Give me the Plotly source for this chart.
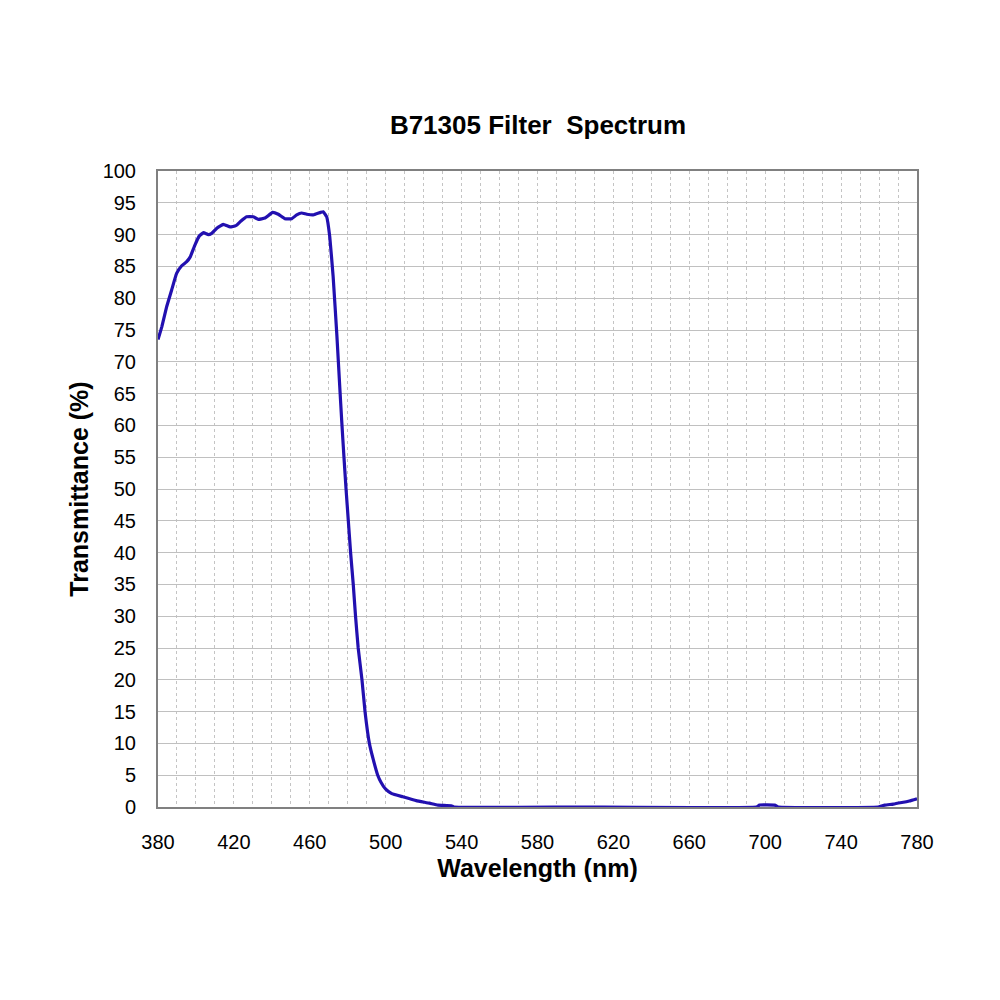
import plotly.graph_objects as go

# transmittance curve (nm, %)
wavelength = [
    380, 382, 384.6, 387.2, 389.8, 392.5, 395, 397, 399.5, 401.8,
    404, 406.5, 408.3, 411, 414.4, 418, 421, 423.6, 426.7, 430.2,
    432.9, 436.4, 440.4, 443.4, 446.9, 450.5, 453.1, 455.7, 458.4, 461.8,
    465.7, 467.1, 468.9, 470.5, 472.3, 474.3, 475.8, 476.8, 478, 479.1,
    480.3, 481.5, 482.9, 484.1, 485.5, 487.5, 489.1, 491.4, 493.5, 495.8,
    497.5, 500, 503.2, 509, 516.1, 523.1, 527.5, 534.5, 536, 600,
    695.5, 697, 705, 706.9, 759.6, 763, 767.5, 772, 776, 780,
]
transmittance = [
    73.5, 75.5, 78.7, 81.3, 83.9, 85.1, 85.7, 86.5, 88.4, 89.8,
    90.3, 90.0, 90.2, 91.0, 91.6, 91.2, 91.4, 92.1, 92.8, 92.8,
    92.4, 92.6, 93.5, 93.2, 92.5, 92.5, 93.1, 93.4, 93.2, 93.1,
    93.5, 93.6, 92.8, 89.7, 83.4, 74.0, 66.0, 60.8, 55.0, 50.0,
    45.0, 40.0, 35.0, 30.0, 25.0, 20.0, 15.0, 10.0, 7.4, 5.0,
    3.9, 2.8, 2.1, 1.6, 1.0, 0.6, 0.3, 0.2, 0.0, 0.0,
    0.0, 0.3, 0.3, 0.0, 0.0, 0.3, 0.45, 0.7, 0.95, 1.3,
]

x_ticks = list(range(380, 781, 40))
y_ticks = list(range(0, 101, 5))

title_text = "<b>B71305 Filter  Spectrum</b>"
x_title = "<b>Wavelength (nm)</b>"
y_title = "<b>Transmittance (%)</b>"

font_family = "Liberation Sans, Arial, sans-serif"

fig = go.Figure(
    go.Scatter(
        x=wavelength,
        y=transmittance,
        mode="lines",
        line=dict(color="#2210b0", width=3.2, shape="spline", smoothing=0.3),
        hoverinfo="x+y",
    )
)

# page body adds an 8px offset, margins are set to land the plot at 158..917 x 171..807
fig.update_layout(
    width=1000,
    height=1000,
    paper_bgcolor="white",
    plot_bgcolor="white",
    showlegend=False,
    margin=dict(l=150, r=91, t=163, b=201),
    font=dict(family=font_family, color="black", size=20),
    title=dict(
        text=title_text,
        x=0.530,
        xanchor="center",
        y=0.883,
        yanchor="middle",
        font=dict(size=26, family=font_family, color="black"),
    ),
)

fig.update_xaxes(
    range=[380, 780],
    tickvals=x_ticks,
    ticks="outside",
    ticklen=16,
    tickcolor="rgba(0,0,0,0)",
    showgrid=True,
    gridcolor="#c4c4c4",
    griddash="dot",
    gridwidth=1,
    minor=dict(dtick=10, showgrid=True, gridcolor="#c4c4c4", griddash="dot", gridwidth=1),
    showline=True,
    linecolor="#808080",
    linewidth=2,
    mirror=True,
    zeroline=False,
    title=dict(text=x_title, font=dict(size=25, family=font_family), standoff=7),
    tickfont=dict(size=20, family=font_family),
)

fig.update_yaxes(
    range=[0, 100],
    tickvals=y_ticks,
    ticks="outside",
    ticklen=16,
    tickcolor="rgba(0,0,0,0)",
    showgrid=True,
    gridcolor="#c0c0c0",
    gridwidth=1,
    showline=True,
    linecolor="#808080",
    linewidth=2,
    mirror=True,
    zeroline=False,
    title=dict(text=y_title, font=dict(size=25, family=font_family), standoff=7),
    tickfont=dict(size=20, family=font_family),
)

fig.write_html("out.html")
